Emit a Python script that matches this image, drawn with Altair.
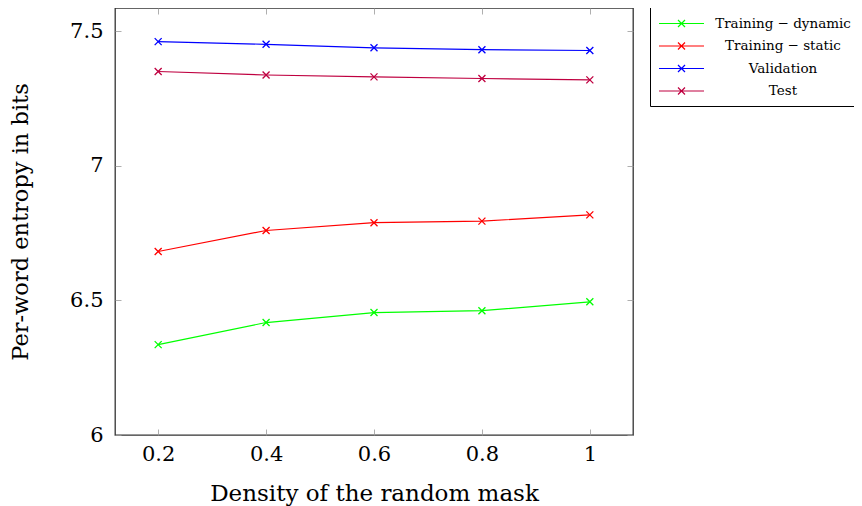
import altair as alt
import pandas as pd

density = [0.2, 0.4, 0.6, 0.8, 1.0]
series_names = ["Training − dynamic", "Training − static", "Validation", "Test"]
train_dynamic = [6.336, 6.418, 6.455, 6.462, 6.495]
train_static = [6.682, 6.760, 6.789, 6.795, 6.818]
validation = [7.462, 7.452, 7.439, 7.432, 7.429]
test = [7.351, 7.338, 7.331, 7.325, 7.320]
colors = ["#00FF00", "#FF0000", "#0000FF", "#BF0040"]
x_ticks = [0.2, 0.4, 0.6, 0.8, 1.0]
y_ticks = [6, 6.5, 7, 7.5]

rows = []
for name, vals in zip(series_names, [train_dynamic, train_static, validation, test]):
    for d, v in zip(density, vals):
        rows.append({"x": d, "y": v, "series": name})
df = pd.DataFrame(rows)

FONT = "DejaVu Serif"
xs = alt.Scale(domain=[0.12, 1.08], nice=False, zero=False)
ys = alt.Scale(domain=[6, 7.587], nice=False, zero=False)
cs = alt.Scale(domain=series_names, range=colors)

common = dict(tickSize=6, offset=-6, domain=False, grid=False, tickColor="#9a9a9a",
              tickWidth=0.8)

ax_bottom = alt.Axis(orient="bottom", values=x_ticks, format="~g", labelFont=FONT,
                     labelFontSize=21, labelColor="black", labelPadding=8,
                     title="Density of the random mask", titleFont=FONT,
                     titleFontSize=23, titleFontWeight="normal", titleColor="black",
                     titlePadding=18, **common)
ax_top = alt.Axis(orient="top", values=x_ticks, labels=False, title=None, **common)
ax_left = alt.Axis(orient="left", values=y_ticks, format="~g", labelFont=FONT,
                   labelFontSize=21, labelColor="black", labelPadding=12,
                   title="Per-word entropy in bits", titleFont=FONT,
                   titleFontSize=22.5, titleFontWeight="normal", titleColor="black",
                   titlePadding=37, **common)
ax_right = alt.Axis(orient="right", values=y_ticks, labels=False, title=None, **common)

leg_path = "M-3,0L3,0M-0.467,-0.467L0.467,0.467M-0.467,0.467L0.467,-0.467"
legend = alt.Legend(title=None, orient="none", legendX=535, legendY=-1,
                    symbolType=leg_path, symbolSize=225, symbolStrokeWidth=1.2,
                    symbolOffset=15,
                    labelFont=FONT, labelFontSize=13.5, labelColor="black",
                    labelAlign="center", labelOffset=93, padding=8,
                    strokeColor="black", fillColor="white", rowPadding=7.5)

base = alt.Chart(df)
lines = base.mark_line(strokeWidth=1.2).encode(
    x=alt.X("x:Q", scale=xs, axis=ax_bottom),
    y=alt.Y("y:Q", scale=ys, axis=ax_left),
    color=alt.Color("series:N", scale=cs, legend=legend),
    detail="series:N",
)
points = base.mark_point(shape="M-1,-1L1,1M-1,1L1,-1", size=49, filled=False,
                         strokeWidth=1.3, opacity=1).encode(
    x=alt.X("x:Q", scale=xs, axis=ax_top),
    y=alt.Y("y:Q", scale=ys, axis=ax_right),
    color=alt.Color("series:N", scale=cs, legend=legend),
)

chart = alt.layer(lines, points).resolve_axis(x="independent", y="independent").properties(
    width=518, height=427,
    autosize=alt.AutoSizeParams(type="none"),
    padding={"left": 107, "top": 0, "right": 221, "bottom": 71},
    background="white",
).configure_view(stroke="#333333", strokeWidth=1.3)

chart.save("out.html", embed_options={"renderer": "svg", "actions": False})
